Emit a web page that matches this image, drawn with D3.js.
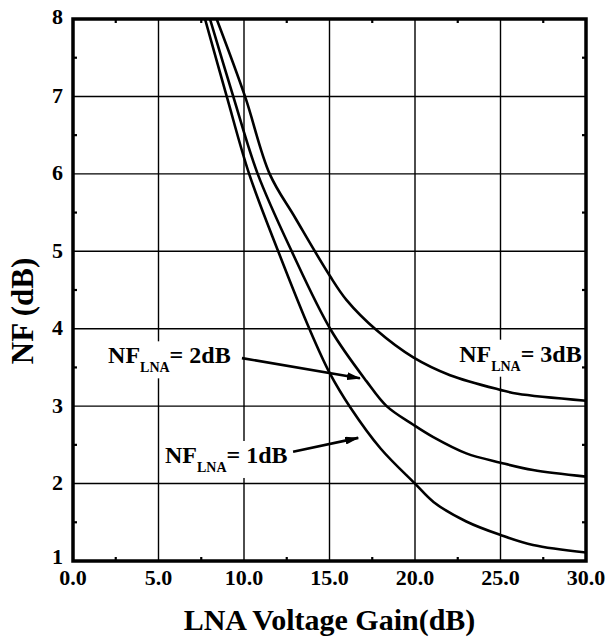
<!DOCTYPE html>
<html><head><meta charset="utf-8">
<script src="https://cdn.jsdelivr.net/npm/d3@7"></script>
<style>body{margin:0;background:#fff}svg{display:block}</style>
</head><body>
<svg id="c" width="609" height="643"></svg>
<script>
// ---- data ----
const xTicks = [0, 5, 10, 15, 20, 25, 30];
const xTickLabels = ["0.0", "5.0", "10.0", "15.0", "20.0", "25.0", "30.0"];
const yTicks = [1, 2, 3, 4, 5, 6, 7, 8];
const yTickLabels = ["1", "2", "3", "4", "5", "6", "7", "8"];
const xMinor = [2.5, 7.5, 12.5, 17.5, 22.5, 27.5];
const yMinor = [1.5, 2.5, 3.5, 4.5, 5.5, 6.5, 7.5];

const gain1dB = [7.72, 8.99, 10.3, 12.0, 13.86, 15.03, 16.2, 18.0, 20.0, 21.1, 23.0, 25.0, 26.9, 30.0];
const nf1dB   = [8.0, 7.0, 6.0, 5.0, 3.98, 3.42, 2.99, 2.45, 2.0, 1.76, 1.51, 1.336, 1.207, 1.11];
const gain2dB = [8.01, 9.37, 10.8, 12.79, 15.09, 17.17, 18.34, 19.9, 21.07, 23.0, 25.0, 26.9, 30.0];
const nf2dB   = [8.0, 7.0, 6.0, 5.0, 3.98, 3.32, 3.0, 2.76, 2.6, 2.39, 2.27, 2.175, 2.09];
const gain3dB = [8.4, 10.06, 11.5, 13.0, 15.0, 16.0, 17.76, 19.9, 22.05, 25.0, 26.0, 30.0];
const nf3dB   = [8.0, 7.0, 6.0, 5.43, 4.69, 4.37, 3.98, 3.63, 3.40, 3.21, 3.16, 3.07];

const seriesNames = ["1dB", "2dB", "3dB"];
const seriesGains = [gain1dB, gain2dB, gain3dB];
const seriesNF = [nf1dB, nf2dB, nf3dB];

// annotations (data coordinates)
const labelValues = ["2dB", "1dB", "3dB"];
const labelPos = [[2.05, 3.553, "start"], [5.38, 2.266, "start"], [29.75, 3.574, "end"]];
const arrowFrom = [[9.88, 3.62], [12.87, 2.41]];
const arrowTo = [[16.78, 3.36], [16.68, 2.59]];

const xTitle = "LNA Voltage Gain(dB)";
const yTitle = "NF (dB)";

// ---- layout ----
const L = 73, R = 586, T = 19, B = 561;
const FONT = '"Liberation Serif"';
const svg = d3.select("#c");
const x = d3.scaleLinear().domain([0, 30]).range([L, R]);
const y = d3.scaleLinear().domain([1, 8]).range([B, T]);
function setFont(sel, size) {
  return sel.style("font-family", FONT).style("font-weight", "bold").style("font-size", size + "px").attr("fill", "#000");
}

svg.append("rect").attr("width", 609).attr("height", 643).attr("fill", "#fff");

// gridlines
const grid = svg.append("g").attr("stroke", "#000").attr("stroke-width", 1.4);
grid.selectAll(".vx").data(xTicks.slice(1, -1)).join("line")
  .attr("x1", d => x(d)).attr("x2", d => x(d)).attr("y1", T).attr("y2", B);
grid.selectAll(".hy").data(yTicks.slice(1, -1)).join("line")
  .attr("y1", d => y(d)).attr("y2", d => y(d)).attr("x1", L).attr("x2", R);

// labels (with white boxes)
const labG = svg.append("g");
const labelNodes = [];
labelValues.forEach((v, i) => {
  const [gx, ny, anchor] = labelPos[i];
  const t = setFont(labG.append("text"), 24)
    .attr("x", x(gx)).attr("y", y(ny))
    .attr("text-anchor", anchor);
  t.append("tspan").text("NF");
  t.append("tspan").style("font-size", "14px").attr("dy", 9).text("LNA");
  t.append("tspan").attr("dy", -9).text("= " + v);
  labelNodes.push(t);
});
labelNodes.forEach(t => {
  const bb = t.node().getBBox();
  labG.insert("rect", "text")
    .attr("x", bb.x - 3).attr("y", bb.y - 1)
    .attr("width", bb.width + 6).attr("height", bb.height + 4)
    .attr("fill", "#fff");
});

// curves
svg.append("clipPath").attr("id", "clip").append("rect")
  .attr("x", L).attr("y", T).attr("width", R - L).attr("height", B - T);
const line = d3.line().x(d => x(d[0])).y(d => y(d[1])).curve(d3.curveCatmullRom.alpha(0.5));
svg.append("g").attr("clip-path", "url(#clip)")
  .selectAll("path").data(seriesNames).join("path")
  .attr("d", (n, i) => line(seriesGains[i].map((g, j) => [g, seriesNF[i][j]])))
  .attr("fill", "none").attr("stroke", "#000").attr("stroke-width", 2.6)
  .attr("stroke-linejoin", "round");

// arrows
const defs = svg.append("defs");
defs.append("marker").attr("id", "ah")
  .attr("viewBox", "0 0 14 8").attr("refX", 13).attr("refY", 4)
  .attr("markerWidth", 14).attr("markerHeight", 8)
  .attr("markerUnits", "userSpaceOnUse").attr("orient", "auto")
  .append("path").attr("d", "M0,0 L14,4 L0,8 Z").attr("fill", "#000");
svg.append("g").selectAll("line").data(arrowFrom).join("line")
  .attr("x1", d => x(d[0])).attr("y1", d => y(d[1]))
  .attr("x2", (d, i) => x(arrowTo[i][0])).attr("y2", (d, i) => y(arrowTo[i][1]))
  .attr("stroke", "#000").attr("stroke-width", 2.6)
  .attr("marker-end", "url(#ah)");

// frame
svg.append("rect").attr("x", L).attr("y", T).attr("width", R - L).attr("height", B - T)
  .attr("fill", "none").attr("stroke", "#000").attr("stroke-width", 3.5);

// minor ticks (inward)
const mt = svg.append("g").attr("stroke", "#000").attr("stroke-width", 2.2);
xMinor.forEach(v => {
  mt.append("line").attr("x1", x(v)).attr("x2", x(v)).attr("y1", T).attr("y2", T + 4);
  mt.append("line").attr("x1", x(v)).attr("x2", x(v)).attr("y1", B).attr("y2", B - 4);
});
yMinor.forEach(v => {
  mt.append("line").attr("y1", y(v)).attr("y2", y(v)).attr("x1", L).attr("x2", L + 4);
  mt.append("line").attr("y1", y(v)).attr("y2", y(v)).attr("x1", R).attr("x2", R - 4);
});

// tick labels
setFont(svg.append("g").selectAll("text").data(xTicks).join("text"), 22)
  .attr("x", d => x(d)).attr("y", 585)
  .attr("text-anchor", "middle")
  .text((d, i) => xTickLabels[i]);
setFont(svg.append("g").selectAll("text").data(yTicks).join("text"), 22)
  .attr("x", 63).attr("y", (d, i) => y(d) + (i === 0 ? -4 : i === yTicks.length - 1 ? -2 : 0))
  .attr("dy", "0.3em")
  .attr("text-anchor", "end")
  .text((d, i) => yTickLabels[i]);

// axis titles
setFont(svg.append("text"), 30).attr("x", (L + R) / 2).attr("y", 630)
  .attr("text-anchor", "middle")
  .text(xTitle);
setFont(svg.append("text"), 31).attr("transform", "translate(33,311) rotate(-90)")
  .attr("text-anchor", "middle")
  .text(yTitle);
</script>
</body></html>
